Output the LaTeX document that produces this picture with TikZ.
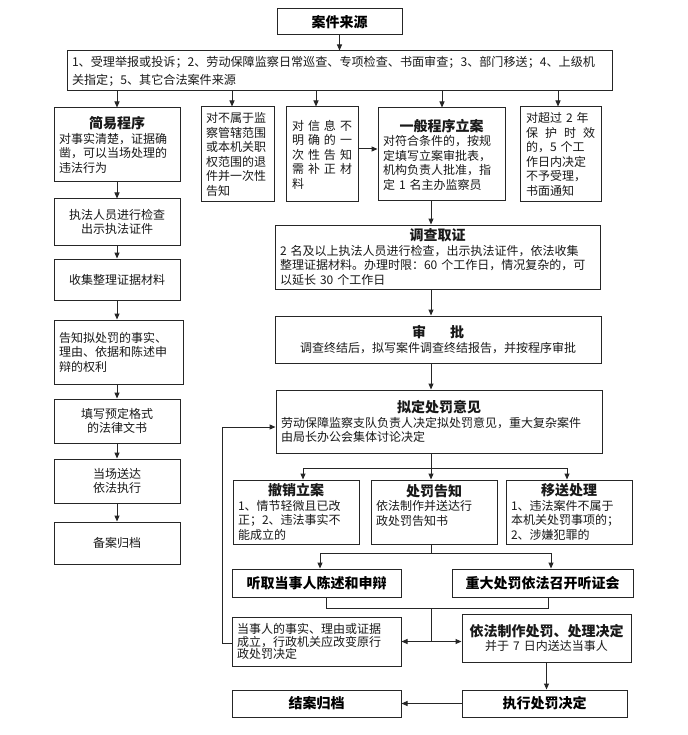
\documentclass[tikz,border=0pt]{standalone}
\usepackage{fontspec}
\setmainfont{Noto Sans CJK SC}
\usetikzlibrary{arrows.meta}
\setlength{\parindent}{0pt}

\newcommand{\bodyfont}{\fontsize{12}{14.5}\selectfont}
\newcommand{\ttl}[1]{{\centering\bfseries\fontsize{14}{17}\selectfont #1\par}}
\newcommand{\gap}{\hfill{}}

\tikzset{
    box/.style={draw=black!85, line width=1pt, fill=white, text=black!90, font=\bodyfont, inner xsep=5pt, inner ysep=3pt},
    tbox/.style={box, align=left},
    cbox/.style={box, align=center},
    head/.style={box, align=center, text=black, font=\bfseries\fontsize{14}{17}\selectfont},
}

\begin{document}
\begin{tikzpicture}[x=1pt, y=-1pt, line width=1pt, draw=black!85, >={Triangle[length=6pt,width=5pt]}]
    \fill[white] (0,0) rectangle (687,735);

    \node[head, minimum width=125pt, minimum height=26pt] (src) at (339.5,22) {案件来源};
    \node[tbox, text width=535pt, minimum height=40pt, font=\fontsize{12.1}{18}\selectfont] (kinds) at (339.5,71)
        {1、受理举报或投诉；2、劳动保障监察日常巡查、专项检查、书面审查；3、部门移送；4、上级机\\关指定；5、其它合法案件来源};

    % second row
    \node[tbox, text width=116pt, minimum height=74pt] (simple) at (117,145)
        {\ttl{简易程序}对事实清楚，证据确\\凿，可以当场处理的\\违法行为};
    \node[tbox, text width=63pt, minimum height=95pt] (out1) at (237.5,154.5)
        {对不属于监\\察管辖范围\\或本机关职\\权范围的退\\件并一次性\\告知};
    \node[tbox, text width=60pt, inner xsep=6pt, minimum height=95pt] (out2) at (322,154.5)
        {对\gap 信\gap 息\gap 不\\明\gap 确\gap 的\gap 一\\次\gap 性\gap 告\gap 知\\需\gap 补\gap 正\gap 材\\料};
    \node[tbox, text width=117pt, minimum height=93pt] (general) at (441.5,154.5)
        {\ttl{一般程序立案}对符合条件的，按规\\定填写立案审批表，\\机构负责人批准，指\\定 1 名主办监察员};
    \node[tbox, text width=69pt, inner xsep=6pt, minimum height=95pt] (out3) at (560.5,154.5)
        {对超过 2 年\\保\gap 护\gap 时\gap 效\\的，5 个工\\作日内决定\\不予受理，\\书面通知};

    % simple procedure
    \node[cbox, minimum width=126pt, minimum height=46pt] (check) at (117,222) {执法人员进行检查\\出示执法证件};
    \node[cbox, minimum width=126pt, minimum height=41pt] (collect) at (117,279.5) {收集整理证据材料};
    \node[tbox, text width=119pt, minimum height=64pt] (notify) at (118.5,352) {告知拟处罚的事实、\\理由、依据和陈述申\\辩的权利};
    \node[cbox, minimum width=126pt, minimum height=44pt] (fill) at (117,421) {填写预定格式\\的法律文书};
    \node[cbox, minimum width=126pt, minimum height=44pt] (deliver) at (117,481) {当场送达\\依法执行};
    \node[cbox, minimum width=126pt, minimum height=42pt] (file) at (117,543) {备案归档};

    % general procedure
    \node[tbox, text width=315pt, minimum height=64pt] (invest) at (437.5,257)
        {\ttl{调查取证}2 名及以上执法人员进行检查，出示执法证件，依法收集\\整理证据材料。办理时限：60 个工作日，情况复杂的，可\\以延长 30 个工作日};
    \node[cbox, text width=316pt, minimum height=47pt] (approve) at (438,339.5)
        {\ttl{审\hspace{24pt}批}调查终结后，拟写案件调查终结报告，并按程序审批};
    \node[tbox, text width=316pt, minimum height=63pt] (propose) at (439,421.5)
        {\ttl{拟定处罚意见}劳动保障监察支队负责人决定拟处罚意见，重大复杂案件\\由局长办公会集体讨论决定};
    \node[tbox, text width=116pt, minimum height=64pt] (cancel) at (296,512)
        {\ttl{撤销立案}1、情节轻微且已改\\正；2、违法事实不\\能成立的};
    \node[tbox, text width=116pt, minimum height=64pt] (inform) at (434,512)
        {\ttl{处罚告知}依法制作并送达行\\政处罚告知书\\\mbox{}};
    \node[tbox, text width=116pt, minimum height=64pt] (transfer) at (569,512)
        {\ttl{移送处理}1、违法案件不属于\\本机关处罚事项的；\\2、涉嫌犯罪的};
    \node[head, minimum width=169pt, minimum height=28pt] (hear) at (316.5,583) {听取当事人陈述和申辩};
    \node[head, minimum width=181pt, minimum height=28pt] (hearing) at (542.5,583) {重大处罚依法召开听证会};
    \node[tbox, text width=159pt, minimum height=49pt, font=\fontsize{12}{12.8}\selectfont] (change) at (316.5,641.5)
        {当事人的事实、理由或证据\\成立，行政机关应改变原行\\政处罚决定};
    \node[cbox, text width=159pt, minimum height=48pt] (decide) at (546.5,638)
        {\ttl{依法制作处罚、处理决定}并于 7 日内送达当事人};
    \node[head, minimum width=169pt, minimum height=27pt] (close) at (316.5,703.5) {结案归档};
    \node[head, minimum width=165pt, minimum height=27pt] (exec) at (544.5,703.5) {执行处罚决定};

    \coordinate (axis) at (431,0);

    \draw[->] (src) -- (kinds);
    \foreach \n/\dx in {simple/0, out1/-5.5, out2/-6, general/0.5, out3/-2.5}
        \draw[->] ([xshift=\dx pt]\n.north |- kinds.south) -- ([xshift=\dx pt]\n.north);
    \draw[->] ([yshift=5.5pt]out2.east) -- ([yshift=5.5pt]general.west);

    \foreach \a/\b in {simple/check, check/collect, collect/notify, notify/fill, fill/deliver, deliver/file}
        \draw[->] (\a.south -| simple) -- (\b.north -| simple);

    \foreach \a/\b in {general/invest, invest/approve, approve/propose}
        \draw[->] (\a.south -| axis) -- (\b.north -| axis);

    \draw (propose.south -| axis) -- ++(0,15) coordinate (fork);
    \draw[->] (fork) -- (inform.north -| axis);
    \draw[->] (fork) -| ([xshift=7pt]cancel.north);
    \draw[->] (fork) -| ([xshift=-2pt]transfer.north);

    \draw (inform.south -| axis) -- ++(0,9) coordinate (fork2);
    \draw[->] (fork2) -| ([xshift=3.5pt]hear.north);
    \draw[->] (fork2) -| ([xshift=8.5pt]hearing.north);

    \draw ([xshift=9.5pt]hear.south) -- ++(0,11) coordinate (join) -| ([xshift=5.5pt]hearing.south);
    \draw (join -| axis) -- (axis |- change.east) coordinate (split);
    \draw[->] (split) -- (change.east);
    \draw[->] (split) -- (split -| decide.west);

    \draw[->] ([yshift=-1.5pt]change.west) -- ++(-9,0) |- ([yshift=-5.5pt]propose.west);
    \draw[->] (decide.south) -- (decide.south |- exec.north);
    \draw[->] (exec.west) -- (close.east);
\end{tikzpicture}
\end{document}
